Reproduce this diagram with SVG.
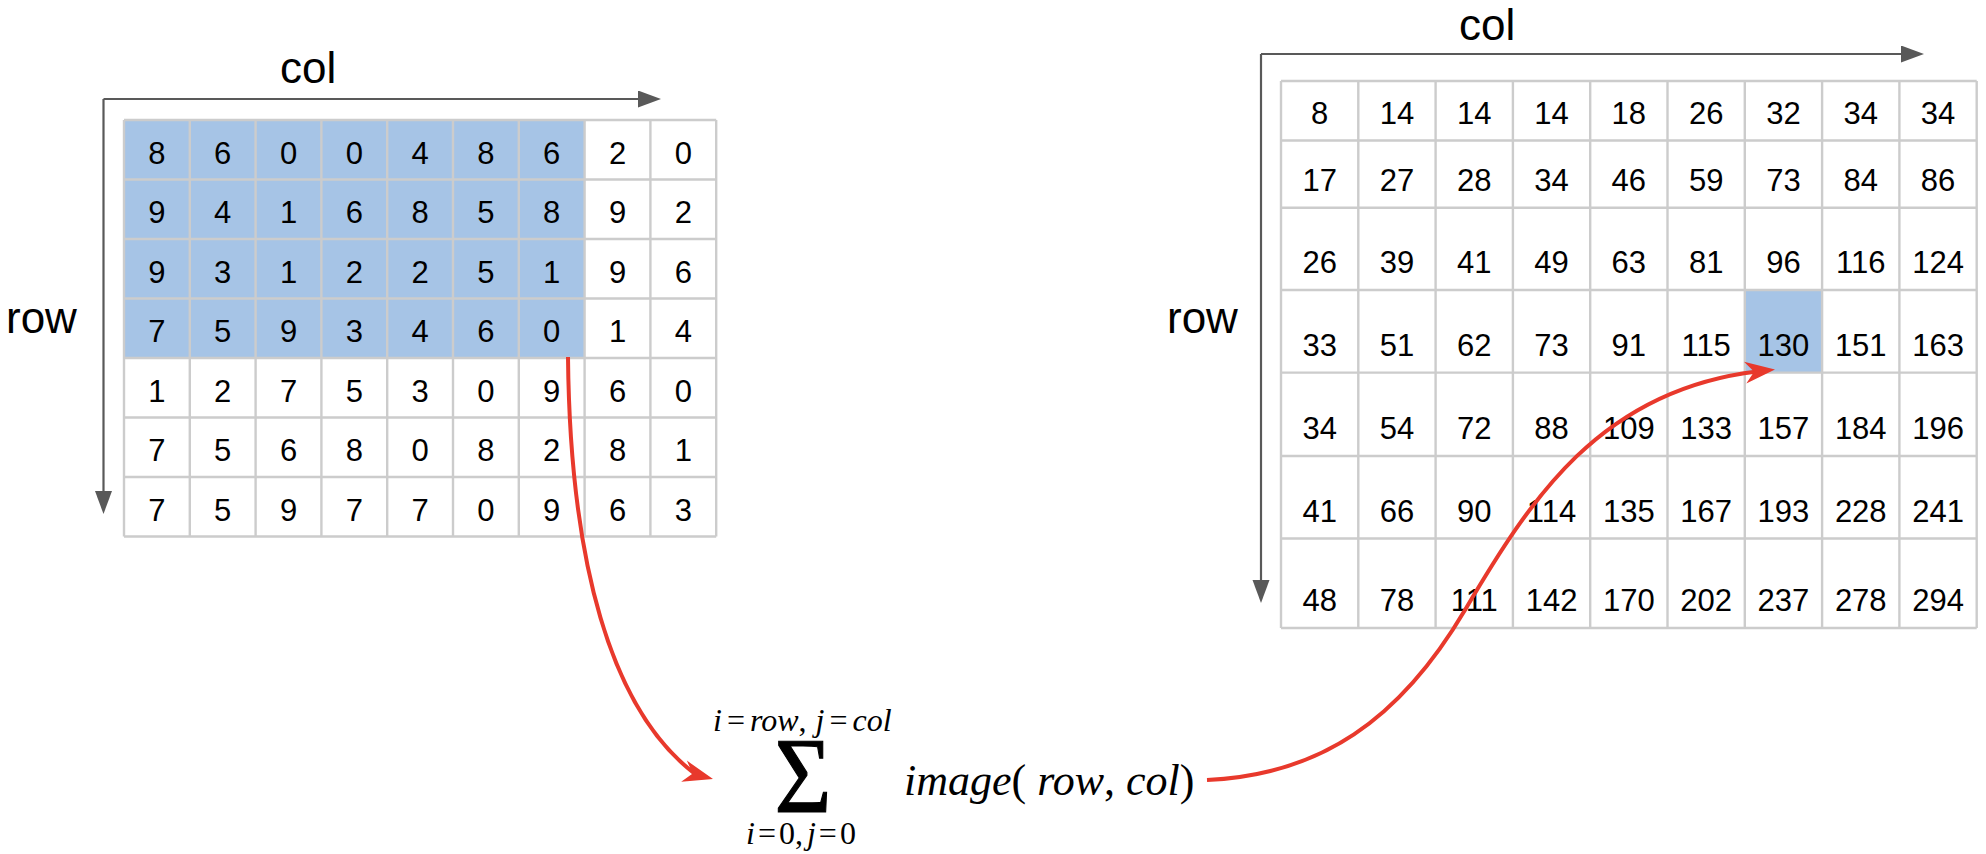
<svg xmlns="http://www.w3.org/2000/svg" xmlns:xlink="http://www.w3.org/1999/xlink" width="1986" height="854" viewBox="0 0 1986 854">
<style>
.grid{fill:none;stroke:#cccccc;stroke-width:2.4}
.hl{fill:#a6c4e6}
.num{font-family:"Liberation Sans",Arial,sans-serif;font-size:31px;fill:#000;text-anchor:middle}
.lbl{font-family:"Liberation Sans",Arial,sans-serif;font-size:44px;fill:#000}
.axis{fill:none;stroke:#595959;stroke-width:2.2}
.red{fill:none;stroke:#e8392c;stroke-width:4}
.redhead{fill:#e8392c}
.math{font-family:"Liberation Serif","Times New Roman",serif;fill:#000}
.it{font-style:italic}
</style>
<defs>
<marker id="gh" markerUnits="userSpaceOnUse" markerWidth="24" markerHeight="18" refX="1" refY="8.5" orient="auto">
<path d="M0,0 L23,8.5 L0,17 Z" fill="#595959"/>
</marker>
<path id="rh" d="M0,0 L-30,-11 L-21,0 L-30,11 Z"/>
</defs>
<rect width="1986" height="854" fill="#ffffff"/>

<g id="left-axes">
<path class="axis" d="M103.5,99 H639" marker-end="url(#gh)"/>
<path class="axis" d="M103.5,99 V492" marker-end="url(#gh)"/>
<text class="lbl" x="280" y="83">col</text>
<text class="lbl" x="6" y="333">row</text>
</g>

<g id="left-grid">
<rect class="hl" x="124" y="120" width="460.6" height="238"/>
<path class="grid" d="M124,120 H716.2 M124,179.5 H716.2 M124,239 H716.2 M124,298.5 H716.2 M124,358 H716.2 M124,417.5 H716.2 M124,477 H716.2 M124,536.5 H716.2 M124,120 V536.5 M189.8,120 V536.5 M255.6,120 V536.5 M321.4,120 V536.5 M387.2,120 V536.5 M453,120 V536.5 M518.8,120 V536.5 M584.6,120 V536.5 M650.4,120 V536.5 M716.2,120 V536.5"/>
<text class="num" y="163.5"><tspan x="156.9">8</tspan><tspan x="222.7">6</tspan><tspan x="288.5">0</tspan><tspan x="354.3">0</tspan><tspan x="420.1">4</tspan><tspan x="485.9">8</tspan><tspan x="551.7">6</tspan><tspan x="617.5">2</tspan><tspan x="683.3">0</tspan></text>
<text class="num" y="223"><tspan x="156.9">9</tspan><tspan x="222.7">4</tspan><tspan x="288.5">1</tspan><tspan x="354.3">6</tspan><tspan x="420.1">8</tspan><tspan x="485.9">5</tspan><tspan x="551.7">8</tspan><tspan x="617.5">9</tspan><tspan x="683.3">2</tspan></text>
<text class="num" y="282.5"><tspan x="156.9">9</tspan><tspan x="222.7">3</tspan><tspan x="288.5">1</tspan><tspan x="354.3">2</tspan><tspan x="420.1">2</tspan><tspan x="485.9">5</tspan><tspan x="551.7">1</tspan><tspan x="617.5">9</tspan><tspan x="683.3">6</tspan></text>
<text class="num" y="342"><tspan x="156.9">7</tspan><tspan x="222.7">5</tspan><tspan x="288.5">9</tspan><tspan x="354.3">3</tspan><tspan x="420.1">4</tspan><tspan x="485.9">6</tspan><tspan x="551.7">0</tspan><tspan x="617.5">1</tspan><tspan x="683.3">4</tspan></text>
<text class="num" y="401.5"><tspan x="156.9">1</tspan><tspan x="222.7">2</tspan><tspan x="288.5">7</tspan><tspan x="354.3">5</tspan><tspan x="420.1">3</tspan><tspan x="485.9">0</tspan><tspan x="551.7">9</tspan><tspan x="617.5">6</tspan><tspan x="683.3">0</tspan></text>
<text class="num" y="461"><tspan x="156.9">7</tspan><tspan x="222.7">5</tspan><tspan x="288.5">6</tspan><tspan x="354.3">8</tspan><tspan x="420.1">0</tspan><tspan x="485.9">8</tspan><tspan x="551.7">2</tspan><tspan x="617.5">8</tspan><tspan x="683.3">1</tspan></text>
<text class="num" y="520.5"><tspan x="156.9">7</tspan><tspan x="222.7">5</tspan><tspan x="288.5">9</tspan><tspan x="354.3">7</tspan><tspan x="420.1">7</tspan><tspan x="485.9">0</tspan><tspan x="551.7">9</tspan><tspan x="617.5">6</tspan><tspan x="683.3">3</tspan></text>
</g>

<g id="right-axes">
<path class="axis" d="M1261,54 H1902" marker-end="url(#gh)"/>
<path class="axis" d="M1261,54 V581" marker-end="url(#gh)"/>
<text class="lbl" x="1459" y="40">col</text>
<text class="lbl" x="1167" y="333">row</text>
</g>

<g id="right-grid">
<rect class="hl" x="1744.8" y="290" width="77.3" height="82.6"/>
<path class="grid" d="M1281,81 H1976.7 M1281,140.5 H1976.7 M1281,207.7 H1976.7 M1281,290 H1976.7 M1281,372.6 H1976.7 M1281,456 H1976.7 M1281,538.5 H1976.7 M1281,628 H1976.7 M1281,81 V628 M1358.3,81 V628 M1435.6,81 V628 M1512.9,81 V628 M1590.2,81 V628 M1667.5,81 V628 M1744.8,81 V628 M1822.1,81 V628 M1899.4,81 V628 M1976.7,81 V628"/>
<text class="num" y="123.5"><tspan x="1319.65">8</tspan><tspan x="1396.95">14</tspan><tspan x="1474.25">14</tspan><tspan x="1551.55">14</tspan><tspan x="1628.85">18</tspan><tspan x="1706.15">26</tspan><tspan x="1783.45">32</tspan><tspan x="1860.75">34</tspan><tspan x="1938.05">34</tspan></text>
<text class="num" y="190.7"><tspan x="1319.65">17</tspan><tspan x="1396.95">27</tspan><tspan x="1474.25">28</tspan><tspan x="1551.55">34</tspan><tspan x="1628.85">46</tspan><tspan x="1706.15">59</tspan><tspan x="1783.45">73</tspan><tspan x="1860.75">84</tspan><tspan x="1938.05">86</tspan></text>
<text class="num" y="273"><tspan x="1319.65">26</tspan><tspan x="1396.95">39</tspan><tspan x="1474.25">41</tspan><tspan x="1551.55">49</tspan><tspan x="1628.85">63</tspan><tspan x="1706.15">81</tspan><tspan x="1783.45">96</tspan><tspan x="1860.75">116</tspan><tspan x="1938.05">124</tspan></text>
<text class="num" y="355.6"><tspan x="1319.65">33</tspan><tspan x="1396.95">51</tspan><tspan x="1474.25">62</tspan><tspan x="1551.55">73</tspan><tspan x="1628.85">91</tspan><tspan x="1706.15">115</tspan><tspan x="1783.45">130</tspan><tspan x="1860.75">151</tspan><tspan x="1938.05">163</tspan></text>
<text class="num" y="439"><tspan x="1319.65">34</tspan><tspan x="1396.95">54</tspan><tspan x="1474.25">72</tspan><tspan x="1551.55">88</tspan><tspan x="1628.85">109</tspan><tspan x="1706.15">133</tspan><tspan x="1783.45">157</tspan><tspan x="1860.75">184</tspan><tspan x="1938.05">196</tspan></text>
<text class="num" y="521.5"><tspan x="1319.65">41</tspan><tspan x="1396.95">66</tspan><tspan x="1474.25">90</tspan><tspan x="1551.55">114</tspan><tspan x="1628.85">135</tspan><tspan x="1706.15">167</tspan><tspan x="1783.45">193</tspan><tspan x="1860.75">228</tspan><tspan x="1938.05">241</tspan></text>
<text class="num" y="611"><tspan x="1319.65">48</tspan><tspan x="1396.95">78</tspan><tspan x="1474.25">111</tspan><tspan x="1551.55">142</tspan><tspan x="1628.85">170</tspan><tspan x="1706.15">202</tspan><tspan x="1783.45">237</tspan><tspan x="1860.75">278</tspan><tspan x="1938.05">294</tspan></text>
</g>

<g id="formula">
<text class="math" x="713" y="731" font-size="32"><tspan class="it">i</tspan><tspan dx="5">=</tspan><tspan class="it" dx="5">row</tspan><tspan>,</tspan><tspan class="it" dx="9">j</tspan><tspan dx="5">=</tspan><tspan class="it" dx="5">col</tspan></text>
<text class="math" x="803" y="812" font-size="107" text-anchor="middle" textLength="57" lengthAdjust="spacingAndGlyphs" stroke="#000" stroke-width="1.2">Σ</text>
<text class="math" x="746" y="844" font-size="32"><tspan class="it">i</tspan><tspan dx="3">=</tspan><tspan dx="3">0,</tspan><tspan class="it" dx="4">j</tspan><tspan dx="3">=</tspan><tspan dx="3">0</tspan></text>
<text class="math" x="904" y="795" font-size="44"><tspan class="it">image</tspan>( <tspan class="it">row</tspan>, <tspan class="it">col</tspan>)</text>
</g>

<g id="connectors">
<path class="red" d="M568,357 C570,560 610,710 695.6,774.3"/>
<use xlink:href="#rh" class="redhead" transform="translate(713,779) rotate(15)"/>
<path class="red" d="M1207,780 C1320,775 1400,720 1465,610 S1600,390 1757.1,371.4"/>
<use xlink:href="#rh" class="redhead" transform="translate(1775,369.5) rotate(-6)"/>
</g>
</svg>
